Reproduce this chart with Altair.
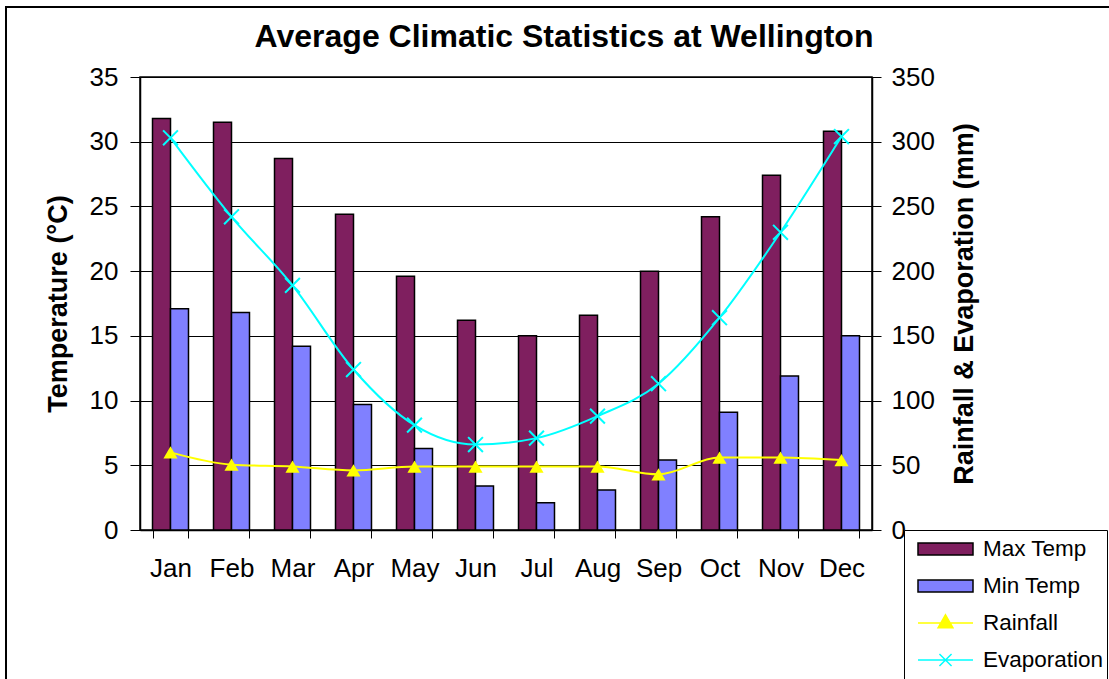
import altair as alt
import pandas as pd

months = ["Jan", "Feb", "Mar", "Apr", "May", "Jun", "Jul", "Aug", "Sep", "Oct", "Nov", "Dec"]
max_temp = [31.8, 31.5, 28.7, 24.4, 19.6, 16.2, 15.0, 16.6, 20.0, 24.2, 27.4, 30.8]
min_temp = [17.1, 16.8, 14.2, 9.7, 6.3, 3.4, 2.1, 3.1, 5.4, 9.1, 11.9, 15.0]
rainfall = [60, 50.5, 49, 46, 49, 49, 49, 49, 43, 56, 56, 54]
evaporation = [303, 242, 189, 124, 81, 66, 71, 88, 113, 164, 230, 304]

series = ["Max Temp", "Min Temp", "Rainfall", "Evaporation"]
fills = ["#7F1F5F", "#8080FF", "#FFFF00", "#00FFFF"]
strokes = ["#000000", "#000000", "#FFFF00", "#00FFFF"]
legend_paths = [
    "M-1,-0.22H1V0.22H-1Z",
    "M-1,-0.22H1V0.22H-1Z",
    "M-1,0H1M0,-0.3L0.27,0.17L-0.27,0.17Z",
    "M-1,0H1M-0.22,-0.22L0.22,0.22M-0.22,0.22L0.22,-0.22",
]
temp_ticks = [0, 5, 10, 15, 20, 25, 30, 35]
mm_ticks = [0, 50, 100, 150, 200, 250, 300, 350]

FONT = "Liberation Sans"

bar_df = pd.DataFrame({
    "month": months * 2,
    "series": [series[0]] * 12 + [series[1]] * 12,
    "value": max_temp + min_temp,
})
line_df = pd.DataFrame({
    "month": months * 2,
    "series": [series[2]] * 12 + [series[3]] * 12,
    "value": rainfall + evaporation,
})
leg_df = pd.DataFrame({"series": series})
frame_df = pd.DataFrame({"a": [0]})

x_axis = alt.Axis(
    title=None, labelAngle=0, labelFont=FONT, labelFontSize=26, labelColor="black",
    labelPadding=17, tickBand="extent", tickSize=8, tickColor="black", tickWidth=1,
    domainColor="black", domainWidth=1.5, grid=False,
)
x_enc = alt.X("month:N", sort=months,
              scale=alt.Scale(type="band", paddingInner=0.41, paddingOuter=0.205),
              axis=x_axis)

border = alt.Chart(frame_df).mark_rect(fill="transparent", stroke="black", strokeWidth=2).encode(
    x=alt.value(-134), x2=alt.value(1000), y=alt.value(-70), y2=alt.value(640)
)

bars = alt.Chart(bar_df).mark_bar(stroke="black", strokeWidth=1.5).encode(
    x=x_enc,
    xOffset=alt.XOffset("series:N", sort=series[:2]),
    y=alt.Y("value:Q", scale=alt.Scale(domain=[0, 35], nice=False),
            axis=alt.Axis(values=temp_ticks, title="Temperature (°C)", titleFont=FONT,
                          titleFontSize=27, titleFontWeight="bold", titleColor="black",
                          titlePadding=17, labelFont=FONT, labelFontSize=26, labelColor="black",
                          labelPadding=12, tickSize=10, tickColor="black", domainColor="black",
                          domainWidth=1.5, grid=True, gridColor="black", gridWidth=1,
                          gridOpacity=1)),
    color=alt.Color("series:N", scale=alt.Scale(domain=series[:2], range=fills[:2]), legend=None),
)

base = alt.Chart(line_df).encode(
    x=x_enc,
    y=alt.Y("value:Q", scale=alt.Scale(domain=[0, 350], nice=False),
            axis=alt.Axis(orient="right", values=mm_ticks, title="Rainfall & Evaporation (mm)",
                          titleFont=FONT, titleFontSize=27, titleFontWeight="bold",
                          titleColor="black", titleAngle=270, titlePadding=44,
                          labelFont=FONT, labelFontSize=26, labelColor="black", labelPadding=10,
                          tickSize=9, tickColor="black", domainColor="black", domainWidth=1.5,
                          grid=False)),
)
rain = base.transform_filter(alt.datum.series == series[2])
evap = base.transform_filter(alt.datum.series == series[3])
rain_line = rain.mark_line(color=fills[2], strokeWidth=2, interpolate="monotone")
evap_line = evap.mark_line(color=fills[3], strokeWidth=2, interpolate="monotone")
rain_pts = rain.mark_point(shape="triangle-up", filled=True, color=fills[2], size=200, opacity=1)
evap_pts = evap.mark_point(shape="M-1,-1L1,1M-1,1L1,-1", filled=False, color=fills[3],
                           strokeWidth=2, size=220, opacity=1)
right = alt.layer(rain_line, evap_line, rain_pts, evap_pts)

leg = alt.Legend(
    title=None, orient="none", legendX=764, legendY=453, direction="vertical",
    padding=3, symbolSize=3025, symbolStrokeWidth=1.5, symbolOpacity=1,
    symbolOffset=10, labelOffset=9, clipHeight=32, rowPadding=5,
    labelFont=FONT, labelFontSize=22.5, labelColor="black",
    strokeColor="black", fillColor="white", cornerRadius=0,
)
legend_layer = alt.Chart(leg_df).mark_point(filled=True, opacity=0, size=10).encode(
    x=alt.value(0), y=alt.value(0),
    fill=alt.Fill("series:N", sort=series, scale=alt.Scale(domain=series, range=fills), legend=leg),
    stroke=alt.Stroke("series:N", sort=series, scale=alt.Scale(domain=series, range=strokes), legend=leg),
    shape=alt.Shape("series:N", sort=series, scale=alt.Scale(domain=series, range=legend_paths), legend=leg),
)

chart = alt.layer(border, bars, right, legend_layer).resolve_scale(y="independent").properties(
    width=732, height=453,
    autosize=alt.AutoSizeParams(type="none"),
    padding={"left": 140, "top": 77, "right": 237, "bottom": 149},
    background="white",
    title=alt.TitleParams("Average Climatic Statistics at Wellington", font=FONT, fontSize=32,
                          fontWeight="bold", color="black", anchor="middle", frame="group",
                          dx=58, offset=-73, baseline="alphabetic"),
).configure_view(stroke="black", strokeWidth=1.5)

chart.save("out.html", embed_options={"renderer": "svg", "actions": False})
